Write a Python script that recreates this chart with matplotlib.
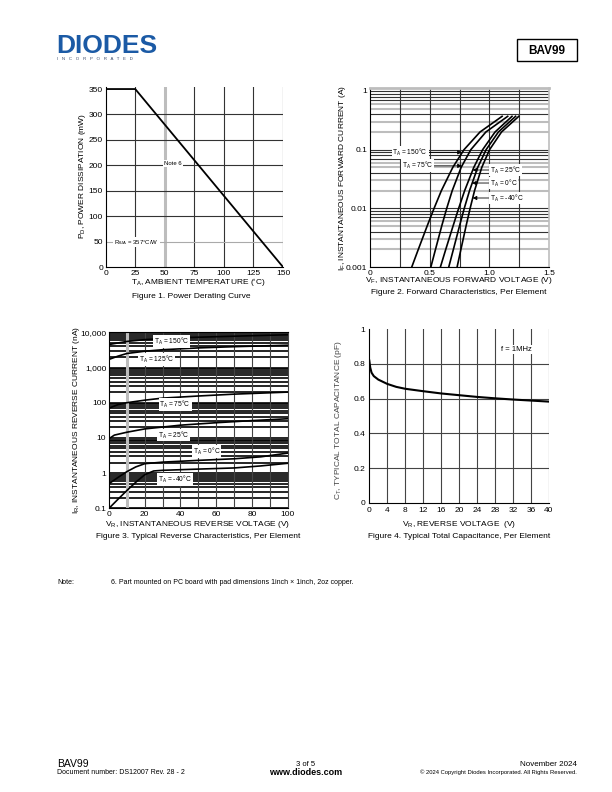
import numpy as np
import matplotlib
matplotlib.use('Agg')
import matplotlib.pyplot as plt
from matplotlib.patches import Rectangle
from matplotlib.ticker import NullFormatter, FixedLocator

plt.rcParams['font.family'] = ['Liberation Sans', 'DejaVu Sans']
plt.rcParams['mathtext.default'] = 'regular'

## ---------------- data ----------------
## Figure 1 : power derating
ta = [0, 25, 150]
pd_mw = [350, 350, 0]

## Figure 2 : forward characteristics, IF (A) vs VF (V)
if_a = [0.001, 0.002, 0.005, 0.01, 0.02, 0.05, 0.1, 0.2, 0.37]
vf_150 = [0.350, 0.405, 0.479, 0.537, 0.598, 0.694, 0.788, 0.922, 1.107]
vf_75 = [0.510, 0.549, 0.601, 0.643, 0.689, 0.764, 0.845, 0.971, 1.154]
vf_25 = [0.590, 0.635, 0.696, 0.743, 0.793, 0.870, 0.944, 1.048, 1.190]
vf_0 = [0.660, 0.699, 0.750, 0.790, 0.834, 0.903, 0.973, 1.076, 1.220]
vf_m40 = [0.730, 0.762, 0.805, 0.839, 0.876, 0.937, 1.002, 1.102, 1.247]

## Figure 3 : reverse current IR (nA) vs VR (V)
vr_150 = [0, 10, 20, 40, 60, 80, 100]
ir_150 = [4500, 5500, 6200, 7000, 7500, 8000, 8500]
vr_125 = [0, 5, 10, 20, 30, 50, 70, 100]
ir_125 = [1700, 2100, 2500, 2900, 3200, 3600, 3900, 4300]
vr_75 = [0, 5, 10, 20, 30, 50, 70, 100]
ir_75 = [70, 88, 100, 118, 135, 155, 175, 200]
vr_25 = [0, 3, 10, 20, 40, 60, 80, 100]
ir_25 = [9.5, 12, 14.5, 18, 23, 27, 31, 35]
vr_0 = [0, 5, 10, 15, 20, 30, 50, 70, 85, 100]
ir_0 = [0.5, 0.75, 1.1, 1.5, 1.85, 2.05, 2.3, 2.55, 2.9, 3.7]
vr_m40 = [0, 5, 10, 15, 20, 25, 30, 50, 70, 85, 100]
ir_m40 = [0.1, 0.18, 0.32, 0.55, 0.9, 1.15, 1.2, 1.3, 1.4, 1.6, 1.9]

## Figure 4 : total capacitance CT (pF) vs VR (V)
vr_c = [0, 0.2, 0.5, 1, 2, 4, 6, 8, 12, 16, 20, 24, 28, 32, 36, 40]
ct_pf = [0.82, 0.78, 0.75, 0.73, 0.71, 0.685, 0.668, 0.657, 0.643, 0.63,
         0.62, 0.61, 0.602, 0.595, 0.589, 0.583]

W, H = 612., 792.
fig = plt.figure(figsize=(W/100., H/100.), dpi=100)

def ftext(x, y, s, **kw):
    fig.text(x/W, 1-y/H, s, **kw)

def pix_axes(x0, y0, x1, y1):
    return fig.add_axes([x0/W, 1-y1/H, (x1-x0)/W, (y1-y0)/H])

DARK = '#333333'
GRAY = '#bdbdbd'
fs = 6
box = dict(facecolor='white', edgecolor='none', pad=0.6)

## ---------------- header ----------------
ftext(56, 46, 'DIODES', fontsize=19, fontweight='bold', color='#1b5aa5', va='center', ha='left')
ftext(57, 59.5, 'I   N   C   O   R   P   O   R   A   T   E   D', fontsize=3.2, color='#3a4a6a', va='center', ha='left')
fig.patches.append(Rectangle((517/W, 1-61/H), 60/W, 22/H, transform=fig.transFigure,
                             fill=False, edgecolor='k', lw=1.0))
ftext(547, 50.5, 'BAV99', fontsize=8.5, fontweight='bold', ha='center', va='center')

## ---------------- Figure 1 ----------------
ax1 = pix_axes(105.7, 86.5, 283, 267)
for x in [25, 75, 100, 125, 150]:
    ax1.axvline(x, color=DARK, lw=0.8, zorder=1)
ax1.axvline(50, color=GRAY, lw=2.2, zorder=1)
for y in [100, 150, 200, 250, 300]:
    ax1.axhline(y, color=DARK, lw=0.8, zorder=1)
ax1.axhline(50, color='#aaaaaa', lw=0.8, zorder=1)
ax1.plot(ta, pd_mw, color='k', lw=1.3, zorder=3)
ax1.text(57, 203, 'Note 6', fontsize=4.3, ha='center', va='center', bbox=box, zorder=4)
ax1.text(26, 49, r'R$_{\theta JA}$ = 357°C/W', fontsize=4.3, ha='center', va='center', bbox=box, zorder=4)
ax1.set_xlim(0, 150)
ax1.set_ylim(0, 355)
ax1.set_xticks(range(0, 151, 25))
ax1.set_yticks(range(0, 351, 50))
ax1.spines['top'].set_visible(False)
ax1.spines['right'].set_visible(False)
ax1.tick_params(length=0, labelsize=fs, pad=2)
ftext(83, 176, 'P$_D$, POWER DISSIPATION (mW)', fontsize=fs, rotation=90, ha='center', va='center')
ftext(198, 283, 'T$_A$, AMBIENT TEMPERATURE ($^{\\circ}$C)', fontsize=fs, ha='center', va='center')
ftext(191, 296, 'Figure 1. Power Derating Curve', fontsize=fs, ha='center', va='center')

## ---------------- Figure 2 ----------------
ax2 = pix_axes(370, 88.1, 549, 267)
ax2.set_yscale('log')
for d in [-3, -2, -1]:
    for k in range(1, 10):
        if k in (2, 3, 5, 6):
            ax2.axhline(k*10.**d, color=GRAY, lw=1.5, zorder=1)
        else:
            ax2.axhline(k*10.**d, color=DARK, lw=0.8, zorder=1)
ax2.axhline(1, color=DARK, lw=0.8, zorder=1)
for x in [0.25, 0.5, 0.75, 1.0, 1.25]:
    ax2.axvline(x, color=DARK, lw=0.8, zorder=1)
for vf in [vf_150, vf_75, vf_25, vf_0, vf_m40]:
    ax2.plot(vf, if_a, color='k', lw=1.2, zorder=3)
arr = dict(arrowstyle='-|>', lw=0.6, color='k', mutation_scale=6, shrinkA=0, shrinkB=0)
lab2 = [('T$_A$ = 150°C', 0.336, 0.09, 0.46, 0.77),
        ('T$_A$ = 75°C', 0.40, 0.053, 0.51, 0.77),
        ('T$_A$ = 25°C', 1.134, 0.045, 1.03, 0.86),
        ('T$_A$ = 0°C', 1.12, 0.027, 1.04, 0.855),
        ('T$_A$ = -40°C', 1.149, 0.015, 1.03, 0.86)]
for s, tx, ty, x0, x1 in lab2:
    ax2.annotate('', xy=(x1, ty), xytext=(x0, ty), arrowprops=arr, zorder=4)
    ax2.text(tx, ty, s, fontsize=4.8, ha='center', va='center', bbox=box, zorder=5)
ax2.set_xlim(0, 1.5)
ax2.set_ylim(0.001, 1.12)
ax2.set_xticks([0, 0.5, 1.0, 1.5])
ax2.set_xticklabels(['0', '0.5', '1.0', '1.5'])
ax2.yaxis.set_major_locator(FixedLocator([0.001, 0.01, 0.1, 1]))
ax2.set_yticklabels(['0.001', '0.01', '0.1', '1'])
ax2.yaxis.set_minor_formatter(NullFormatter())
ax2.tick_params(which='both', length=0, labelsize=fs, pad=2)
ax2.spines['top'].set_color(GRAY)
ax2.spines['top'].set_linewidth(2.0)
ax2.spines['right'].set_color(GRAY)
ax2.spines['right'].set_linewidth(1.2)
ftext(342, 178, 'I$_F$, INSTANTANEOUS FORWARD CURRENT (A)', fontsize=fs, rotation=90, ha='center', va='center')
ftext(459, 281, 'V$_F$, INSTANTANEOUS FORWARD VOLTAGE (V)', fontsize=fs, ha='center', va='center')
ftext(459, 292, 'Figure 2. Forward Characteristics, Per Element', fontsize=fs, ha='center', va='center')

## ---------------- Figure 3 ----------------
ax3 = pix_axes(109, 332.3, 287.7, 508.3)
ax3.set_yscale('log')
for d in range(-1, 4):
    for k in range(1, 10):
        ax3.axhline(k*10.**d, color='k', lw=1.2, zorder=1)
ax3.axvline(10, color=GRAY, lw=2.2, zorder=1)
for x in range(20, 100, 10):
    ax3.axvline(x, color='#444444', lw=0.8, zorder=1)
for vr, ir in [(vr_150, ir_150), (vr_125, ir_125), (vr_75, ir_75),
               (vr_25, ir_25), (vr_0, ir_0), (vr_m40, ir_m40)]:
    ax3.plot(vr, ir, color='k', lw=1.2, zorder=3)
lab3 = [('T$_A$ = 150°C', 35, 5400), ('T$_A$ = 125°C', 26.7, 1710),
        ('T$_A$ = 75°C', 37, 90), ('T$_A$ = 25°C', 36, 12.1),
        ('T$_A$ = 0°C', 54.7, 4.07), ('T$_A$ = -40°C', 37, 0.67)]
for s, tx, ty in lab3:
    ax3.text(tx, ty, s, fontsize=4.8, ha='center', va='center', bbox=box, zorder=5)
ax3.set_xlim(0, 100)
ax3.set_ylim(0.1, 10000)
ax3.set_xticks(range(0, 101, 20))
ax3.yaxis.set_major_locator(FixedLocator([0.1, 1, 10, 100, 1000, 10000]))
ax3.set_yticklabels(['0.1', '1', '10', '100', '1,000', '10,000'])
ax3.yaxis.set_minor_formatter(NullFormatter())
ax3.tick_params(which='both', length=0, labelsize=fs, pad=2)
ax3.spines['right'].set_color('#444444')
ftext(77, 420, 'I$_R$, INSTANTANEOUS REVERSE CURRENT (nA)', fontsize=fs, rotation=90, ha='center', va='center')
ftext(198, 524, 'V$_R$, INSTANTANEOUS REVERSE VOLTAGE (V)', fontsize=fs, ha='center', va='center')
ftext(198, 537, 'Figure 3. Typical Reverse Characteristics, Per Element', fontsize=fs, ha='center', va='center')

## ---------------- Figure 4 ----------------
ax4 = pix_axes(369.3, 329.3, 549, 502.7)
for x in range(4, 41, 4):
    ax4.axvline(x, color='#444444', lw=0.8, zorder=1)
for y in [0.2, 0.4, 0.6, 0.8]:
    ax4.axhline(y, color='#444444', lw=0.8, zorder=1)
ax4.plot(vr_c, ct_pf, color='k', lw=1.5, zorder=3)
ax4.text(32.8, 0.885, 'f = 1MHz', fontsize=5.5, ha='center', va='center', bbox=box, zorder=5)
ax4.set_xlim(0, 40)
ax4.set_ylim(0, 1)
ax4.set_xticks(range(0, 41, 4))
ax4.set_yticks([0, 0.2, 0.4, 0.6, 0.8, 1])
ax4.set_yticklabels(['0', '0.2', '0.4', '0.6', '0.8', '1'])
ax4.spines['top'].set_visible(False)
ax4.spines['right'].set_visible(False)
ax4.tick_params(length=0, labelsize=fs, pad=3)
ftext(339, 420, 'C$_T$, TYPICAL TOTAL CAPACITANCE (pF)', fontsize=fs, rotation=90, ha='center', va='center', color='#444444')
ftext(459, 525, 'V$_R$, REVERSE VOLTAGE  (V)', fontsize=fs, ha='center', va='center')
ftext(459, 537, 'Figure 4. Typical Total Capacitance, Per Element', fontsize=fs, ha='center', va='center')

## ---------------- note + footer ----------------
ftext(57, 582, 'Note:', fontsize=5, ha='left', va='center')
ftext(111, 582, '6. Part mounted on PC board with pad dimensions 1inch \u00d7 1inch, 2oz copper.', fontsize=5, ha='left', va='center')

ftext(57, 764, 'BAV99', fontsize=7.5, ha='left', va='center')
ftext(57, 773, 'Document number: DS12007 Rev. 28 - 2', fontsize=5, ha='left', va='center')
ftext(306, 764, '3 of 5', fontsize=5.5, ha='center', va='center')
ftext(306, 772.5, 'www.diodes.com', fontsize=6.5, fontweight='bold', ha='center', va='center')
ftext(577, 764, 'November 2024', fontsize=5.8, ha='right', va='center')
ftext(577, 772.5, '\u00a9 2024 Copyright Diodes Incorporated. All Rights Reserved.', fontsize=4.2, ha='right', va='center')

fig.savefig('out.png', dpi=100)
